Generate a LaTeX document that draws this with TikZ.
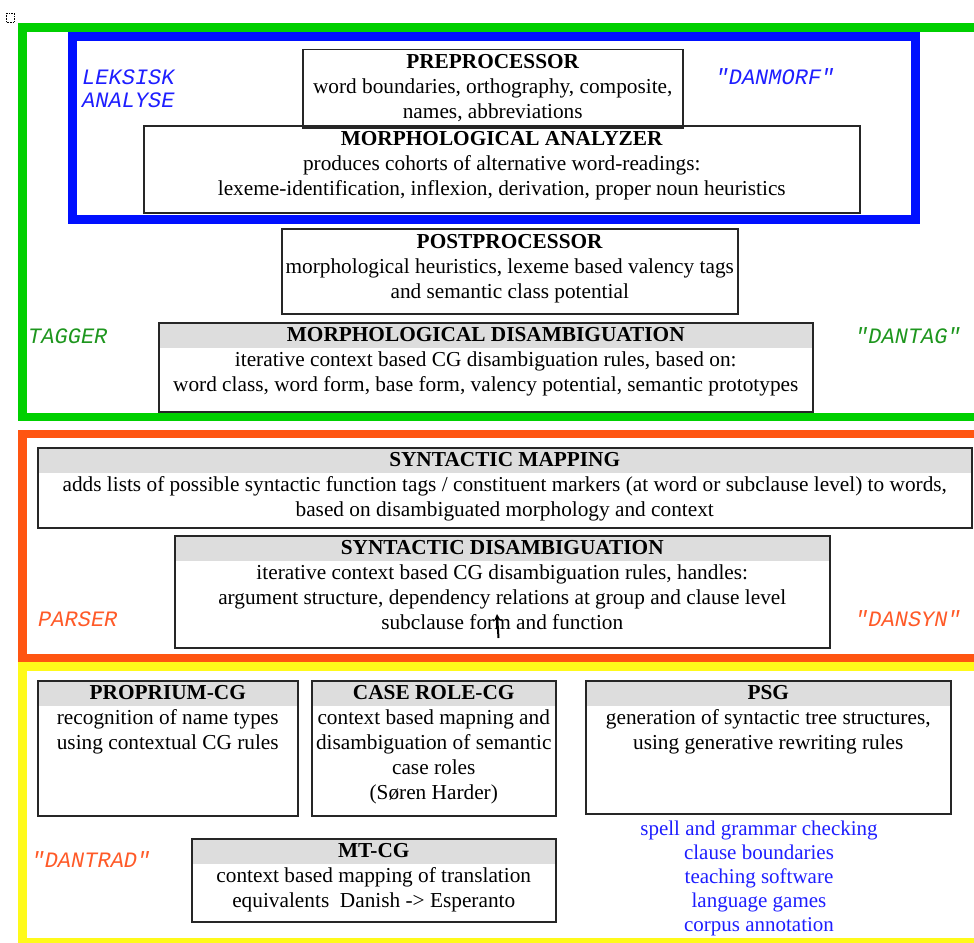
\documentclass[tikz,border=0pt]{standalone}
\usepackage{fontspec}
\usetikzlibrary{arrows.meta}
\setmainfont{Liberation Serif}
\newfontfamily\labfont{Liberation Mono}
\definecolor{gfr}{RGB}{0,208,0}
\definecolor{bfr}{RGB}{0,16,255}
\definecolor{ofr}{RGB}{255,85,17}
\definecolor{yfr}{RGB}{255,250,26}
\definecolor{hdr}{RGB}{221,221,221}
\definecolor{btxt}{RGB}{30,30,255}
\definecolor{gtxt}{RGB}{30,150,30}
\definecolor{otxt}{RGB}{255,90,40}
\begin{document}
\begin{tikzpicture}[x=1pt,y=-1pt,
  frame/.style={line width=8.5pt},
  box/.style={draw=black!85, line width=1.5pt, inner sep=0pt, anchor=north west},
  hbox/.style={box, path picture={\fill[hdr] (path picture bounding box.north west) rectangle ([yshift=-25pt]path picture bounding box.north east);}},
  txt/.style={inner sep=0pt, align=center, anchor=north, font=\fontsize{21.3}{25}\selectfont},
  lab/.style={inner sep=0pt, font=\labfont\itshape\fontsize{22}{23}\selectfont},
  ]
\useasboundingbox (0,0) rectangle (974,942);
\clip (0,0) rectangle (974,942);
% corner icon
\draw[densely dotted, line width=0.6pt] (6,13) rectangle (14,22);
% frames
\draw[frame, draw=gfr] (985,27.5) -- (22.5,27.5) -- (22.5,417) -- (985,417);
\draw[frame, draw=bfr, line width=9pt] (72.5,37) rectangle (915,219);
\draw[frame, draw=ofr] (985,434) -- (22.5,434) -- (22.5,658.5) -- (985,658.5);
\draw[frame, draw=yfr] (985,666.5) -- (22.5,666.5) -- (22.5,942) -- (985,942);
% boxes
\node[box, minimum width=380, minimum height=78] (pre) at (302,49) {};
\node[txt] (preT) at ([yshift=-5pt]pre.north) {\textbf{PREPROCESSOR}\\word boundaries, orthography, composite,\\names, abbreviations};
\node[box, minimum width=716, minimum height=87] (ana) at (143,125) {};
\node[txt] (anaT) at ([yshift=-6pt]ana.north) {\textbf{MORPHOLOGICAL ANALYZER}\\produces cohorts of alternative word-readings:\\lexeme-identification, inflexion, derivation, proper noun heuristics};
\node[box, minimum width=456, minimum height=85] (post) at (281,228) {};
\node[txt] (postT) at ([yshift=-6pt]post.north) {\textbf{POSTPROCESSOR}\\morphological heuristics, lexeme based valency tags\\and semantic class potential};
\node[hbox, minimum width=654, minimum height=89] (mdis) at (158,322) {};
\node[txt] (mdisT) at ([yshift=-5.5pt]mdis.north) {\textbf{MORPHOLOGICAL DISAMBIGUATION}\\iterative context based CG disambiguation rules, based on:\\word class, word form, base form, valency potential, semantic prototypes};
\node[hbox, minimum width=934, minimum height=80] (smap) at (37,447) {};
\node[txt] (smapT) at ([yshift=-5.5pt]smap.north) {\textbf{SYNTACTIC MAPPING}\\adds lists of possible syntactic function tags / constituent markers (at word or subclause level) to words,\\based on disambiguated morphology and context};
\node[hbox, minimum width=655, minimum height=112] (sdis) at (174,535) {};
\node[txt] (sdisT) at ([yshift=-5pt]sdis.north) {\textbf{SYNTACTIC DISAMBIGUATION}\\iterative context based CG disambiguation rules, handles:\\argument structure, dependency relations at group and clause level\\subclause form and function};
\node[hbox, minimum width=260, minimum height=135] (prop) at (37,680) {};
\node[txt] (propT) at ([yshift=-5pt]prop.north) {\textbf{PROPRIUM-CG}\\recognition of name types\\using contextual CG rules};
\node[hbox, minimum width=244, minimum height=135] (case) at (311,680) {};
\node[txt] (caseT) at ([yshift=-5pt]case.north) {\textbf{CASE ROLE-CG}\\context based mapning and\\disambiguation of semantic\\case roles\\(Søren Harder)};
\node[hbox, minimum width=365, minimum height=133] (psg) at (585,680) {};
\node[txt] (psgT) at ([yshift=-5pt]psg.north) {\textbf{PSG}\\generation of syntactic tree structures,\\using generative rewriting rules};
\node[hbox, minimum width=364, minimum height=83] (mt) at (191,838) {};
\node[txt] (mtT) at ([yshift=-5.5pt]mt.north) {\textbf{MT-CG}\\context based mapping of translation\\equivalents\ \ Danish -> Esperanto};
% application list
\node[txt, text=btxt, font=\fontsize{21}{24}\selectfont] (apps) at (759,821) {spell and grammar checking\\clause boundaries\\teaching software\\language games\\corpus annotation};
% cursor
\coordinate (curB) at (498.5,638);
\coordinate (curT) at (497,614);
\draw[line width=2pt, -{Stealth[length=7pt,width=7pt]}] (curB) -- (curT);
% labels
\node[lab, text=btxt, align=left, anchor=west] (lek) at (82,88.5) {LEKSISK\\ANALYSE};
\node[lab, text=btxt] (danmorf) at (775,77) {"DANMORF"};
\node[lab, text=gtxt, anchor=west] (tagger) at (28,336) {TAGGER};
\node[lab, text=gtxt] (dantag) at (908,336) {"DANTAG"};
\node[lab, text=otxt, anchor=west] (parser) at (38,619) {PARSER};
\node[lab, text=otxt] (dansyn) at (908,619) {"DANSYN"};
\node[lab, text=otxt] (dantrad) at (91,860) {"DANTRAD"};
\end{tikzpicture}
\end{document}
